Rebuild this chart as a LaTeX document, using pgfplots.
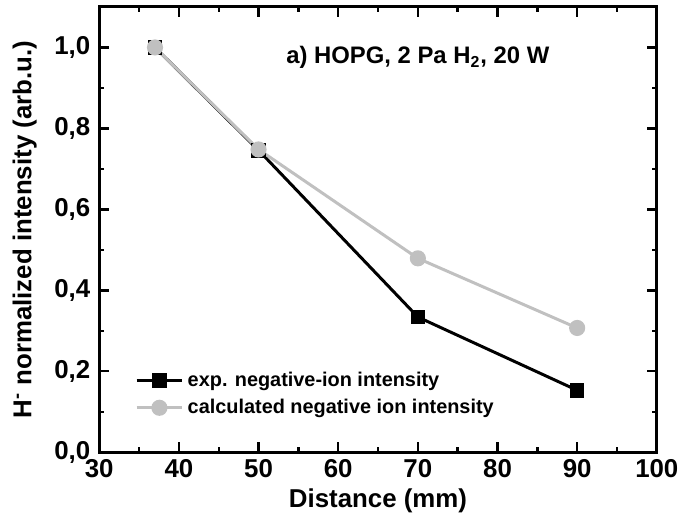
\documentclass[border=0pt]{standalone}
\usepackage{pgfplots}
\pgfplotsset{compat=1.18}
\usepackage{fontspec}
\setmainfont{Liberation Sans}
\definecolor{calcgray}{RGB}{192,192,192}
\begin{document}
\begin{tikzpicture}
\begin{axis}[
  name=ax,
  scale only axis,
  width=280.5pt, height=224pt,
  xmin=30, xmax=100, ymin=0, ymax=1.1,
  xtick={30,40,...,100},
  ytick={0,0.2,...,1.0},
  minor x tick num=1,
  minor y tick num=1,
  tick align=inside,
  major tick length=5pt,
  minor tick length=2.5pt,
  axis line style={line width=1.5pt},
  every tick/.style={line width=1.2pt, black},
  /pgf/number format/assume math mode=true,
  yticklabel style={xshift=-1pt, /pgf/number format/.cd, fixed, fixed zerofill, precision=1, use comma},
  xticklabel style={/pgf/number format/.cd, fixed, precision=0},
  tick label style={font=\fontsize{13}{15}\selectfont\bfseries},
  label style={font=\fontsize{13}{15}\selectfont\bfseries},
  xlabel={Distance (mm)},
  ylabel={H\textsuperscript{-} normalized intensity (arb.u.)},
  xlabel style={yshift=1pt},
  ylabel style={yshift=2pt},
  legend style={draw=none, fill=none, at={(rel axis cs:0.06,0.195)}, anchor=north west,
    font=\fontsize{10}{12}\selectfont\bfseries, row sep=1pt, inner sep=1pt},
  legend cell align=left,
  legend image code/.code={
    \draw[#1, mark repeat=2, mark phase=2] plot coordinates {(0pt,0pt) (11.5pt,0pt) (23pt,0pt)};
  },
]
\addplot[black, line width=1.5pt, mark=square*, mark size=2.9pt, mark options={solid}]
  coordinates {(37,1.0) (50,0.746) (70,0.334) (90,0.153)};
\addlegendentry{exp. negative-ion intensity}
\addplot[calcgray, line width=1.5pt, mark=*, mark size=3.3pt]
  coordinates {(37,1.0) (50,0.748) (70,0.479) (90,0.307)};
\addlegendentry{calculated negative ion intensity}
\node[font=\fontsize{12}{14}\selectfont\bfseries] at (axis cs:70,0.975) {a) HOPG, 2 Pa H\textsubscript{2}, 20 W};
\end{axis}
\path (ax.north) ++(0,3.5pt);
\path (current bounding box.west) ++(-3pt,0);
\path (current bounding box.south) ++(0,-4pt);
\end{tikzpicture}
\end{document}
